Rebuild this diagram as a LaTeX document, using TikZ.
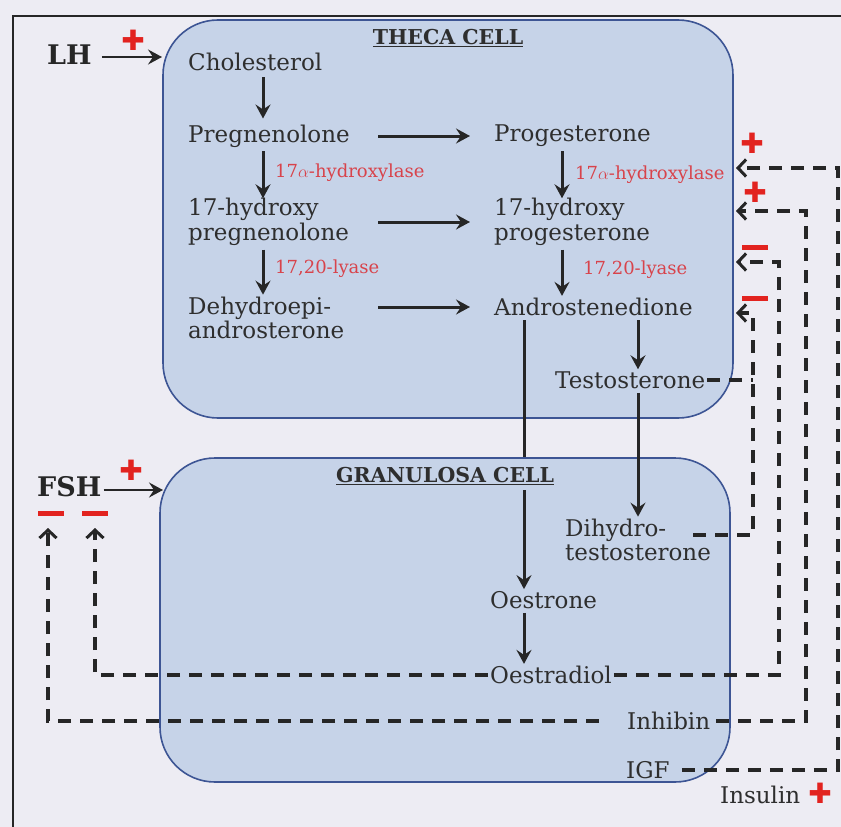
\documentclass[tikz,border=0pt]{standalone}
\usepackage{fontspec}
\setmainfont{DejaVu Serif}
\newfontfamily\signfont{DejaVu Sans}
\usetikzlibrary{arrows.meta}

\definecolor{pagebg}{HTML}{EDECF3}
\definecolor{cellfill}{HTML}{C6D3E8}
\definecolor{cellline}{HTML}{3D5594}
\definecolor{enzred}{HTML}{D8434B}
\definecolor{signred}{HTML}{E2231F}
\definecolor{inkgrey}{HTML}{2E2E2E}

\tikzset{
  cell/.style={draw=cellline, line width=1.6pt, fill=cellfill, rounded corners=55pt},
  celltitle/.style={font=\fontsize{20.5}{24}\selectfont\bfseries, text=inkgrey},
  hormone/.style={font=\fontsize{23}{24.5}\selectfont, text=inkgrey, anchor=west, align=left, inner sep=2pt},
  trigger/.style={font=\fontsize{27}{30}\selectfont\bfseries, text=black!85, anchor=west, inner sep=2pt},
  enzyme/.style={font=\fontsize{18}{20}\selectfont, text=enzred, anchor=west, inner sep=1pt},
  flow/.style={draw=black!85, line width=3pt, -{Stealth[length=14pt,width=15pt,inset=5pt]}},
  feedback/.style={draw=black!85, line width=3.6pt, dash pattern=on 13pt off 9pt,
    -{Straight Barb[length=8pt,width=17pt,line width=3pt]}},
  feedline/.style={draw=black!85, line width=3.6pt, dash pattern=on 13pt off 9pt},
  plus/.style={font=\signfont\fontsize{28}{28}\selectfont, text=signred, inner sep=0pt},
  minus/.style={fill=signred, minimum width=26pt, minimum height=5pt, inner sep=0pt}
}

\begin{document}
\begin{tikzpicture}[x=1pt,y=-1pt]
  \useasboundingbox[fill=pagebg] (0,0) rectangle (841,827);
  % frame, cut at the right and at the bottom
  \draw[black!85, line width=2pt] (13,827) -- (13,16) -- (841,16);

  % the two cells
  \node[cell, minimum width=570pt, minimum height=398pt] (theca) at (448,219) {};
  \node[cell, minimum width=570pt, minimum height=324pt] (granulosa) at (445,620) {};
  \node[celltitle] (thecatitle) at (448,38) {\underline{THECA CELL}};
  \node[celltitle] (granulosatitle) at (445,476) {\underline{GRANULOSA CELL}};

  % columns of the pathway arrows
  \coordinate (colA) at (263,0); \coordinate (colB) at (562,0);
  \coordinate (colC) at (638,0); \coordinate (colD) at (524,0);
  \coordinate (colL) at (378,0); \coordinate (colR) at (470,0);

  % steroids
  \node[hormone] (chol) at (186,62) {Cholesterol};
  \node[hormone] (preg) at (186,136) {Pregnenolone};
  \node[hormone] (ohpreg) at (186,222) {17-hydroxy\\pregnenolone};
  \node[hormone] (dhea) at (186,318) {Dehydroepi-\\androsterone};
  \node[hormone] (prog) at (492,136) {Progesterone};
  \node[hormone] (ohprog) at (492,222) {17-hydroxy\\progesterone};
  \node[hormone] (andro) at (492,307) {Androstenedione};
  \node[hormone] (testo) at (553,380) {Testosterone};
  \node[hormone] (dht) at (563,540) {Dihydro-\\testosterone};
  \node[hormone] (oestrone) at (488,600) {Oestrone};
  \node[hormone] (oestradiol) at (488,675) {Oestradiol};
  \node[hormone] (inhibin) at (625,721) {Inhibin};
  \node[hormone] (igf) at (624,770) {IGF};
  \node[hormone] (insulin) at (718,795) {Insulin};
  \node[trigger] (lh) at (45,55) {LH};
  \node[trigger] (fsh) at (35,487) {FSH};

  % enzymes
  \node[enzyme] (hydroxA) at (274,173) {17$\alpha$-hydroxylase};
  \node[enzyme] (lyaseA) at (274,269) {17,20-lyase};
  \node[enzyme] (hydroxB) at (574,175) {17$\alpha$-hydroxylase};
  \node[enzyme] (lyaseB) at (582,270) {17,20-lyase};

  % pathway
  \draw[flow] (chol.south -| colA) ++(0,4) -- ([yshift=4pt]preg.north -| colA);
  \draw[flow] (preg.south -| colA) ++(0,2) -- ([yshift=-2pt]ohpreg.north -| colA);
  \draw[flow] (ohpreg.south -| colA) ++(0,2) -- (dhea.north -| colA);
  \draw[flow] (preg -| colL) -- (prog -| colR);
  \draw[flow] (ohpreg -| colL) -- (ohprog -| colR);
  \draw[flow] (andro -| colL) -- (andro -| colR);
  \draw[flow] (prog.south -| colB) ++(0,2) -- ([yshift=-2pt]ohprog.north -| colB);
  \draw[flow] (ohprog.south -| colB) ++(0,2) -- (andro.north -| colB);
  \draw[flow] (andro.south -| colC) ++(0,2) -- (testo.north -| colC);
  \draw[flow] (testo.south -| colC) ++(0,2) -- (dht.north -| colC);
  \draw[draw=black!85, line width=3pt] (andro.south -| colD) ++(0,2) -- (granulosa.north -| colD);
  \draw[flow] (granulosatitle.south -| colD) ++(0,2) -- (oestrone.north -| colD);
  \draw[flow] (oestrone.south -| colD) ++(0,2) -- (oestradiol.north -| colD);

  % stimulation from the pituitary
  \coordinate (lhin) at (162,57); \coordinate (fshin) at (163,490);
  \draw[flow, line width=2.4pt] (lh.east) ++(8,2) -- (lhin);
  \draw[flow, line width=2.4pt] (fsh.east) ++(0,3) -- (fshin);
  \node[plus] (lhplus) at (133,40) {✚};
  \node[plus] (fshplus) at (131,470) {✚};

  % feedback rails
  \coordinate (railD) at (753,0); \coordinate (railC) at (779,0);
  \coordinate (railB) at (806,0); \coordinate (railA) at (838,0);
  \coordinate (inA) at (736,168); \coordinate (inB) at (736,211);
  \coordinate (inC) at (736,262); \coordinate (inD) at (736,313);
  \coordinate (fshL) at (48,528); \coordinate (fshR) at (95,528);

  \draw[feedback] (igf.east) ++(10,0) -- (igf.east -| railA) |- (inA);
  \draw[feedback] (inhibin.east) ++(4,0) -- (inhibin.east -| railB) |- (inB);
  \draw[feedback] (oestradiol.east) -- (oestradiol.east -| railC) |- (inC);
  \draw[feedback] (dht.east) ++(-20,-5) -- (dht.east |- 0,535) -- (railD |- 0,535) |- (inD);
  \draw[feedline] (testo.east) -- (testo.east -| railD);
  \draw[feedback] (inhibin.west) ++(-26,0) -| (fshL);
  \draw[feedback] (oestradiol.west) -| (fshR);

  % signs of the feedback
  \node[plus] (plusA) at (752,143) {✚};
  \node[plus] (plusB) at (755,192) {✚};
  \node[minus] (minusC) at (755,247) {};
  \node[minus] (minusD) at (755,298) {};
  \node[minus] (minusL) at (51,513) {};
  \node[minus] (minusR) at (95,513) {};
  \node[plus] (insulinplus) at (820,793) {✚};
\end{tikzpicture}
\end{document}
